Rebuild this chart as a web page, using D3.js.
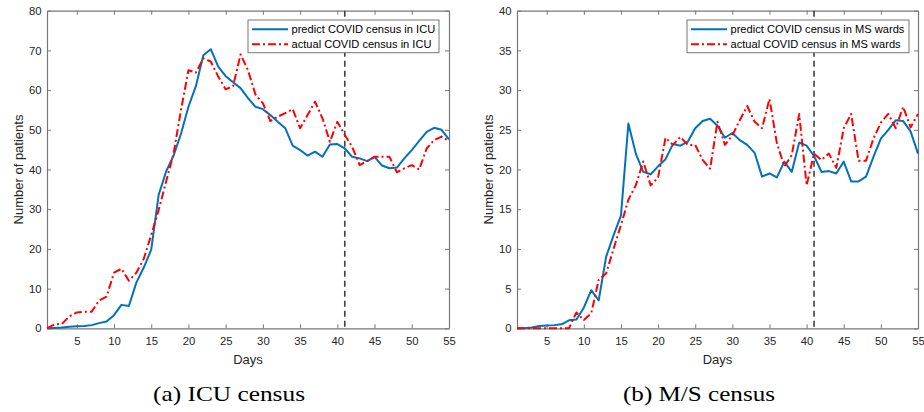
<!DOCTYPE html>
<html><head><meta charset="utf-8">
<script src="https://cdn.jsdelivr.net/npm/d3@7"></script>
<style>body{margin:0;background:#fff}svg{display:block}</style>
</head><body>
<script>
const days = d3.range(1, 56);
const icuPredict = [0,0.1,0.2,0.4,0.5,0.6,0.8,1.3,1.7,3.3,5.9,5.6,11.5,15.3,19.8,33.6,39.5,43.5,49,55.8,61,68.8,70.3,65.9,63.5,62,60.5,58,55.8,55.2,53.7,52,50.4,46,44.9,43.5,44.5,43.2,46.3,46.4,45.3,43.2,42.8,42.1,43.2,41,40.3,40.5,42.8,44.9,47.2,49.5,50.5,50,47.6];
const icuActual = [0,1,1.1,3,4,4.2,4.2,7,8,14,15,12,14,17.5,23.5,29.8,37,44,55,65,64.4,68,67.2,63.4,60.2,61,69,65,58.9,56.7,52.2,53.3,54.2,55.2,50.4,53.7,57.1,52.9,47,52,48.7,45.7,41.1,42.1,43.2,43.2,43.2,39.3,40.3,41.1,40,45.3,47.4,48.3,47.2];
const msPredict = [0,0,0.1,0.3,0.35,0.4,0.5,1,1.1,2.6,4.8,3.5,9,11.7,14.2,25.8,22,19.7,19.4,20.4,21.3,23.2,23,23.5,25.2,26.1,26.4,25.5,24,24.6,23.7,23.1,22.1,19.1,19.5,19,21,19.7,23.4,23,21.7,19.7,19.8,19.5,21,18.5,18.5,19.1,21.6,23.9,25,26.2,26.1,24.8,22];
const msActual = [0,0,0,0,0,0,0,0,2,1.05,1.9,6.1,6.9,10,13,16.2,18,21,18,19,24,23.1,24.1,23.1,23.1,21.2,20.1,26,23.1,24.3,26.2,28,26,25.2,28.9,23.3,20.4,21.8,27,18,22,21.2,22,20.2,25.2,27,21.1,21.1,23.9,25.9,27,25.2,27.9,25.3,27];
const xTicks = [5,10,15,20,25,30,35,40,45,50,55];
const icuYTicks = [0,10,20,30,40,50,60,70,80];
const msYTicks = [0,5,10,15,20,25,30,35,40];
const cutoffDay = 41;
const panels = [
  {left:47, right:449, predict:icuPredict, actual:icuActual, yMax:80, yTicks:icuYTicks,
   legend:["predict COVID census in ICU","actual COVID census in ICU"], legX:248, legW:191,
   caption:"(a) ICU census", capX:229},
  {left:517, right:918, predict:msPredict, actual:msActual, yMax:40, yTicks:msYTicks,
   legend:["predict COVID census in MS wards","actual COVID census in MS wards"], legX:687, legW:222,
   caption:"(b) M/S census", capX:699}
];
const plotTop = 10.7, plotBottom = 328.3;
const svg = d3.select("body").append("svg").attr("width",924).attr("height",412);
const axisCol = "#262626", boxCol = "#777";
const sans = "'Liberation Sans', Arial, sans-serif";

panels.forEach(p => {
  const x = d3.scaleLinear().domain([1,55]).range([p.left,p.right]);
  const y = d3.scaleLinear().domain([0,p.yMax]).range([plotBottom,plotTop]);
  const g = svg.append("g");
  const xa = g.append("g").attr("transform",`translate(0,${plotBottom})`)
    .call(d3.axisBottom(x).tickValues(xTicks).tickSizeInner(-4).tickSizeOuter(0).tickPadding(9));
  const xt = g.append("g").attr("transform",`translate(0,${plotTop})`)
    .call(d3.axisTop(x).tickValues(xTicks).tickSizeInner(-4).tickSizeOuter(0).tickFormat(""));
  const ya = g.append("g").attr("transform",`translate(${p.left},0)`)
    .call(d3.axisLeft(y).tickValues(p.yTicks).tickSizeInner(-4).tickSizeOuter(0).tickPadding(5.5));
  const yr = g.append("g").attr("transform",`translate(${p.right},0)`)
    .call(d3.axisRight(y).tickValues(p.yTicks).tickSizeInner(-4).tickSizeOuter(0).tickFormat(""));
  [xa,xt,ya,yr].forEach(a => {
    a.selectAll(".domain").attr("stroke",boxCol).attr("stroke-width",1.2);
    a.selectAll(".tick line").attr("stroke",boxCol).attr("stroke-width",1);
    a.selectAll("text").attr("fill",axisCol).attr("font-family",sans).attr("font-size",11.3);
  });
  const line = arr => d3.line().x((d,i)=>x(days[i])).y(d=>y(d))(arr);
  g.append("line").attr("x1",x(cutoffDay)).attr("x2",x(cutoffDay)).attr("y1",plotTop).attr("y2",plotBottom)
    .attr("stroke","#404040").attr("stroke-width",1.6).attr("stroke-dasharray","6,4");
  g.append("path").attr("d",line(p.predict)).attr("fill","none").attr("stroke","#0072BD").attr("stroke-width",2).attr("stroke-linejoin","round");
  g.append("path").attr("d",line(p.actual)).attr("fill","none").attr("stroke","#FF0000").attr("stroke-width",2).attr("stroke-dasharray","8,3,2,3").attr("stroke-linejoin","round");
  const lg = g.append("g");
  lg.append("rect").attr("x",p.legX).attr("y",20).attr("width",p.legW).attr("height",32.7)
    .attr("fill","#fff").attr("stroke","#777").attr("stroke-width",1);
  [[p.legend[0],"#0072BD",null,29.3],[p.legend[1],"#FF0000","8,3,2,3",44.3]].forEach(([t,c,da,yy])=>{
    const l = lg.append("line").attr("x1",p.legX+4).attr("x2",p.legX+40).attr("y1",yy).attr("y2",yy)
      .attr("stroke",c).attr("stroke-width",2);
    if (da) l.attr("stroke-dasharray",da);
    lg.append("text").attr("x",p.legX+43.5).attr("y",yy+4).text(t)
      .attr("font-family",sans).attr("font-size",11.1).attr("fill","#000");
  });
  g.append("text").attr("x",(p.left+p.right)/2).attr("y",364).attr("text-anchor","middle")
    .attr("font-family",sans).attr("font-size",13).attr("fill",axisCol).text("Days");
  g.append("text").attr("transform",`translate(${p.left-24},${(plotTop+plotBottom)/2}) rotate(-90)`)
    .attr("text-anchor","middle").attr("font-family",sans).attr("font-size",13).attr("fill",axisCol).text("Number of patients");
  g.append("text").attr("x",p.capX).attr("y",401).attr("text-anchor","middle")
    .attr("font-family","'Liberation Serif', 'DejaVu Serif', serif").attr("font-size",22)
    .attr("textLength",152).attr("lengthAdjust","spacingAndGlyphs").attr("fill","#000").text(p.caption);
});
</script>
</body></html>
